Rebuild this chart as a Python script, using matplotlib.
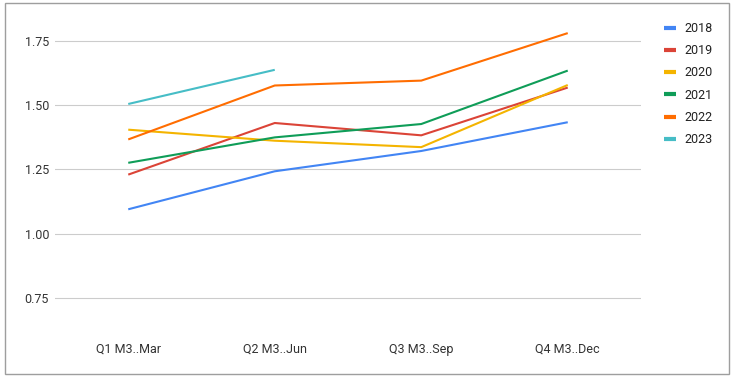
import matplotlib.pyplot as plt
from matplotlib.patches import Rectangle

# Quarter labels and yearly series
quarters = ["Q1 M3..Mar", "Q2 M3..Jun", "Q3 M3..Sep", "Q4 M3..Dec"]
years = ["2018", "2019", "2020", "2021", "2022", "2023"]
v2018 = [1.095, 1.243, 1.322, 1.434]
v2019 = [1.230, 1.431, 1.383, 1.569]
v2020 = [1.405, 1.362, 1.337, 1.579]
v2021 = [1.276, 1.375, 1.427, 1.635]
v2022 = [1.367, 1.577, 1.596, 1.781]
v2023 = [1.505, 1.638]
series = [v2018, v2019, v2020, v2021, v2022, v2023]
colors = ["#4285F4", "#DB4437", "#F4B400", "#0F9D58", "#FF6D01", "#46BDC6"]

plt.rcParams['font.family'] = ['Roboto', 'DejaVu Sans']

fig = plt.figure(figsize=(7.35, 3.8), dpi=100)
ax = fig.add_axes([55 / 735, 1 - 320 / 380, 586 / 735, 300 / 380])

for yr, vals, c in zip(years, series, colors):
    ax.plot(range(len(vals)), vals, color=c, lw=1.5, label=yr,
            solid_capstyle='butt')

ax.set_xlim(-0.5, 3.5)
ax.set_ylim(0.664, 1.832)
ax.set_yticks([0.75, 1.00, 1.25, 1.50, 1.75])
ax.set_yticklabels(["0.75", "1.00", "1.25", "1.50", "1.75"])
ax.set_xticks(range(len(quarters)))
ax.set_xticklabels(quarters)
ax.tick_params(axis='both', length=0, labelsize=9, labelcolor='#333333')
ax.tick_params(axis='y', pad=4.3)
ax.tick_params(axis='x', pad=16.5)
ax.grid(axis='y', color='#cccccc', lw=0.8)
ax.set_axisbelow(True)
for s in ax.spines.values():
    s.set_visible(False)

leg = ax.legend(loc='upper left', bbox_to_anchor=(664 / 735, 1 - 22 / 380),
                bbox_transform=fig.transFigure, frameon=False, fontsize=9,
                handlelength=0.96, handletextpad=0.64, labelspacing=0.74,
                borderaxespad=0, borderpad=0)
for h in leg.get_lines():
    h.set_linewidth(3)
for t in leg.get_texts():
    t.set_color('#222222')

fig.patches.append(Rectangle((5 / 735, 6 / 380), 724 / 735, 371 / 380,
                             transform=fig.transFigure, fill=False,
                             edgecolor='#9e9e9e', lw=1))

fig.savefig("out.png", dpi=100)
